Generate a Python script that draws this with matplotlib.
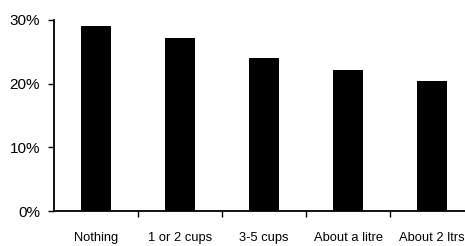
import numpy as np
import matplotlib.pyplot as plt
from matplotlib.ticker import FixedLocator, PercentFormatter

plt.rcParams['font.family'] = ['Liberation Sans', 'DejaVu Sans']

# Data
categories = ['Nothing', '1 or 2 cups', '3-5 cups', 'About a litre', 'About 2 ltrs']
shares = [29.1, 27.2, 24.1, 22.1, 20.4]
y_ticks = [0, 10, 20, 30]

fig = plt.figure(figsize=(4.65, 2.46), dpi=100)
ax = fig.add_axes([0.116, 0.142, 0.884, 0.777])

x = np.arange(len(categories))
ax.bar(x, shares, width=0.36, color='black')

ax.set_xlim(-0.5, 4.39)
ax.set_ylim(0, 30)

ax.set_yticks(y_ticks)
ax.yaxis.set_major_formatter(PercentFormatter(decimals=0))
ax.tick_params(axis='y', direction='out', length=4, width=1, pad=6, labelsize=11)

ax.set_xticks(x)
ax.set_xticklabels(categories, fontsize=9.3)
ax.tick_params(axis='x', which='major', length=0, pad=15)
ax.xaxis.set_minor_locator(FixedLocator(x[:-1] + 0.5))
ax.tick_params(axis='x', which='minor', direction='out', length=4, width=1)

for side in ['top', 'right']:
    ax.spines[side].set_visible(False)
ax.spines['left'].set_linewidth(1.3)
ax.spines['bottom'].set_linewidth(1.3)

fig.savefig('out.png', dpi=100)
